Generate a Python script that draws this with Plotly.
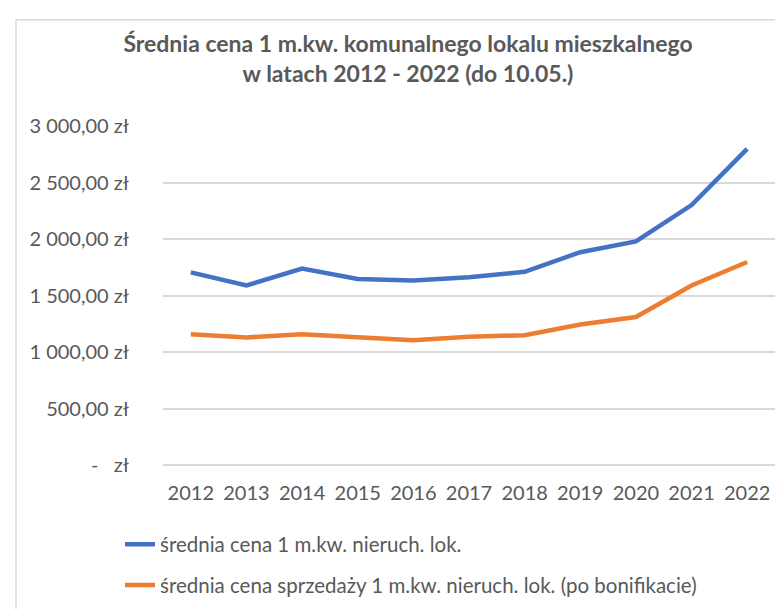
import plotly.graph_objects as go

years = ["2012", "2013", "2014", "2015", "2016", "2017", "2018", "2019", "2020", "2021", "2022"]
avg_price = [1705, 1589, 1739, 1647, 1632, 1661, 1710, 1883, 1978, 2300, 2798]
avg_sale_price = [1157, 1129, 1157, 1135, 1105, 1135, 1149, 1244, 1310, 1589, 1796]
series_names = ["średnia cena 1 m.kw. nieruch. lok.",
                "średnia cena sprzedaży 1 m.kw. nieruch. lok. (po bonifikacie)"]
tick_vals = [0, 500, 1000, 1500, 2000, 2500, 3000]
tick_text = ["-   zł", "500,00 zł", "1 000,00 zł", "1 500,00 zł", "2 000,00 zł", "2 500,00 zł", "3 000,00 zł"]
title_text = "Średnia cena 1 m.kw. komunalnego lokalu mieszkalnego<br>w latach 2012 - 2022 (do 10.05.)"

FONT = "Lato, Carlito, 'Open Sans', sans-serif"
GREY = "#595959"

fig = go.Figure()
fig.add_trace(go.Scatter(x=years, y=avg_price, mode="lines", name=series_names[0],
                         legendgroup="a", line=dict(color="#4472C4", width=4.5)))
fig.add_trace(go.Scatter(x=years, y=avg_sale_price, mode="lines", name=series_names[1],
                         legendgroup="b", line=dict(color="#ED7D31", width=4.5)))

L, R, T, B = 155, 16, 118, 143
W, H = 783, 609
pw, ph = W - L - R, H - T - B

def px_x(x):
    return (x - L) / pw

def px_y(y):
    return (H - B - y) / ph

fig.update_layout(
    width=W, height=H,
    margin=dict(l=L, r=R, t=T, b=B),
    paper_bgcolor="white", plot_bgcolor="white",
    font=dict(family=FONT, color=GREY, size=20),
    title=dict(text=title_text, x=400 / W, xanchor="center", y=1 - 44 / H, yanchor="top",
               font=dict(family=FONT, size=23, color=GREY, weight="bold")),
    showlegend=True,
    legend=dict(orientation="v", x=px_x(112), xanchor="left", y=px_y(527), yanchor="top",
                font=dict(family=FONT, size=20.5, color=GREY), tracegroupgap=11,
                bgcolor="rgba(0,0,0,0)"),
    xaxis=dict(type="category", range=[-0.5, 10.5], showgrid=False, showline=False, ticks="",
               tickfont=dict(family=FONT, size=20, color=GREY), ticklabelstandoff=14),
    yaxis=dict(range=[0, 3000], tickvals=tick_vals, ticktext=tick_text,
               showgrid=True, gridcolor="#d9d9d9", gridwidth=1.5,
               zeroline=True, zerolinecolor="#d9d9d9", zerolinewidth=1.5,
               showline=False, ticks="", ticklabelstandoff=33,
               tickfont=dict(family=FONT, size=20, color=GREY)),
)

fig.add_shape(type="rect", xref="paper", yref="paper",
              x0=px_x(8), x1=px_x(800), y0=px_y(640), y1=px_y(9),
              line=dict(color="#d9d9d9", width=1.5), fillcolor="rgba(0,0,0,0)", layer="below")

fig.write_html("out.html")
